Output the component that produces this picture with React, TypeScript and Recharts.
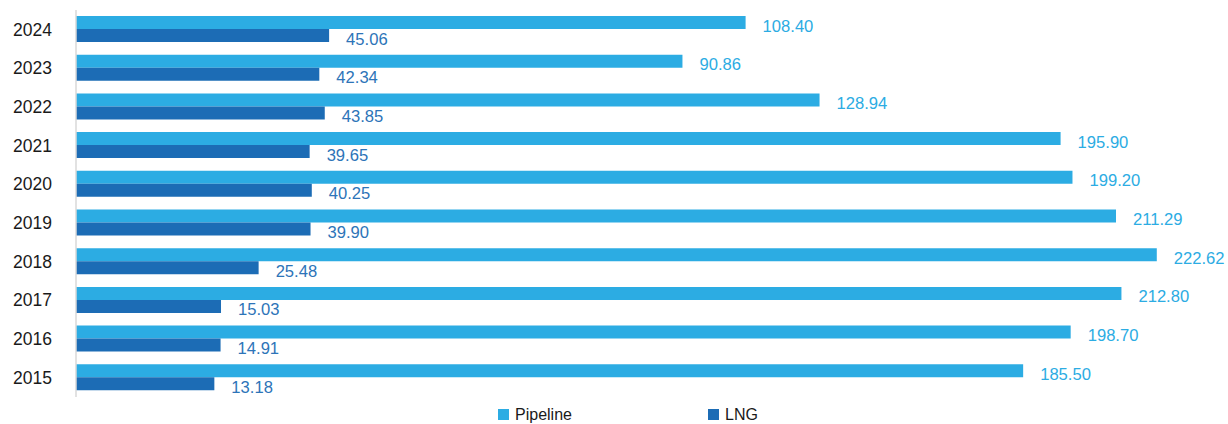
import { BarChart, Bar, XAxis, YAxis, Legend, LabelList } from "recharts"

const years = ["2024", "2023", "2022", "2021", "2020", "2019", "2018", "2017", "2016", "2015"]
const pipeline = [108.4, 90.86, 128.94, 195.9, 199.2, 211.29, 222.62, 212.8, 198.7, 185.5]
const lng = [45.06, 42.34, 43.85, 39.65, 40.25, 39.9, 25.48, 15.03, 14.91, 13.18]

// the source chart does not start its bars at zero: each series carries a fixed lead
const PIPELINE_LEAD = 77.6
const LNG_LEAD = 25.25

const PIPELINE_COLOR = "#2CACE3"
const LNG_COLOR = "#1C6CB5"
const LNG_LABEL_COLOR = "#2D74B8"
const FONT = '"Liberation Sans", Arial, sans-serif'

const data = years.map((year, i) => ({ year, pipeline: pipeline[i], lng: lng[i] }))

const valueLabel = (color: string) => (props: any) => {
  const { x, y, width, height, value } = props
  return (
    <text
      x={Number(x) + Number(width) + 17}
      y={Number(y) + Number(height) / 2 + 3.5}
      fill={color}
      fontSize={16.6}
      fontFamily={FONT}
      dominantBaseline="central"
    >
      {Number(value).toFixed(2)}
    </text>
  )
}

const legendItems = [
  { name: "Pipeline", color: PIPELINE_COLOR, left: 498 },
  { name: "LNG", color: LNG_COLOR, left: 708 },
]

function LegendBox() {
  return (
    <div style={{ position: "relative", height: 27, fontFamily: FONT, fontSize: 16, color: "#1a1a1a" }}>
      {legendItems.map((item) => (
        <div
          key={item.name}
          style={{ position: "absolute", left: item.left, top: 9, height: 17, display: "flex", alignItems: "center", gap: 6 }}
        >
          <span style={{ width: 11, height: 11, background: item.color, display: "inline-block" }} />
          <span>{item.name}</span>
        </div>
      ))}
    </div>
  )
}

export default function App() {
  return (
    <div style={{ position: "absolute", left: 0, top: 0 }}>
      <BarChart
        width={1228}
        height={424}
        data={data}
        layout="vertical"
        margin={{ top: 10, right: 0, left: 0, bottom: 0 }}
        barGap={0}
      >
        <XAxis type="number" hide domain={[0, 320]} />
        <YAxis
          dataKey="year"
          type="category"
          width={76}
          tickLine={false}
          tickSize={0}
          tickMargin={24}
          axisLine={{ stroke: "#d9d9d9", strokeWidth: 1.5 }}
          tick={{ fill: "#1a1a1a", fontSize: 17.5, fontFamily: FONT }}
        />
        <Legend verticalAlign="bottom" content={() => <LegendBox />} />
        <Bar
          dataKey={(d: any) => d.pipeline + PIPELINE_LEAD}
          name="Pipeline"
          fill={PIPELINE_COLOR}
          barSize={13}
          isAnimationActive={false}
        >
          <LabelList dataKey="pipeline" content={valueLabel(PIPELINE_COLOR)} />
        </Bar>
        <Bar
          dataKey={(d: any) => d.lng + LNG_LEAD}
          name="LNG"
          fill={LNG_COLOR}
          barSize={13}
          isAnimationActive={false}
        >
          <LabelList dataKey="lng" content={valueLabel(LNG_LABEL_COLOR)} />
        </Bar>
      </BarChart>
    </div>
  )
}
